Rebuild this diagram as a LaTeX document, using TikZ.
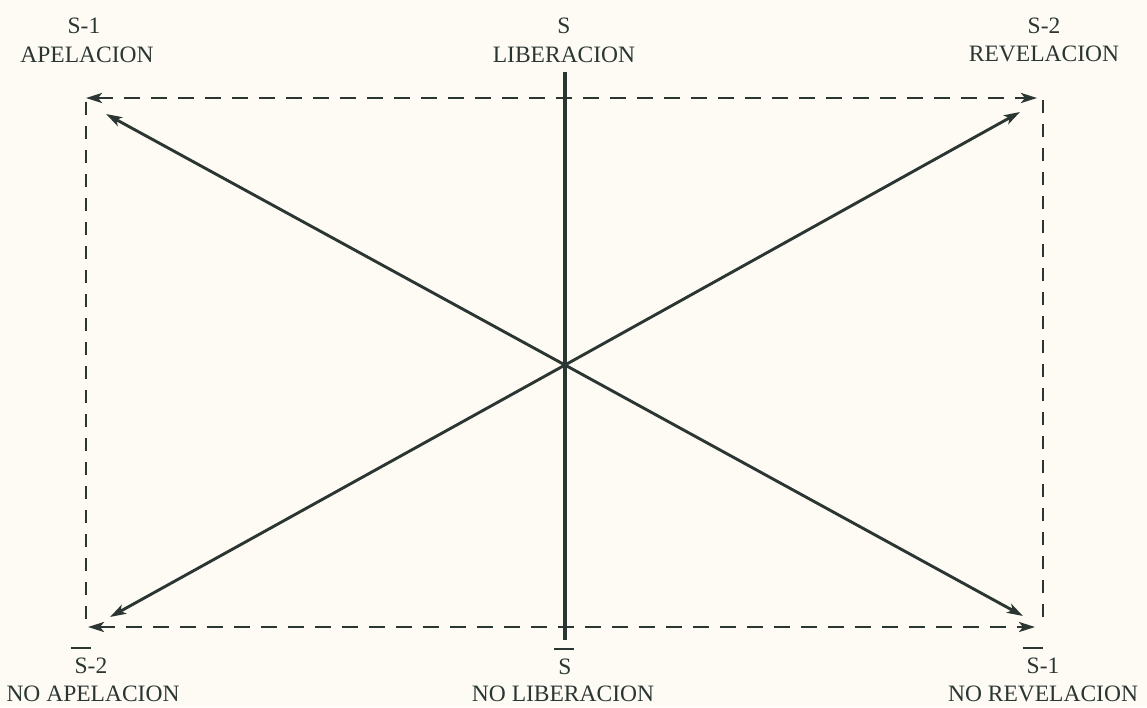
\documentclass[tikz,border=0pt]{standalone}
\usepackage{fontspec}
\setmainfont{Liberation Serif}
\usetikzlibrary{arrows.meta}
\definecolor{ink}{HTML}{2B3633}
\definecolor{paper}{HTML}{FDFBF3}
\newcommand\negS{\makebox[0pt][l]{\hspace{-4pt}\rule[24pt]{20pt}{2pt}}S}
\tikzset{
  lbl/.style={anchor=base, inner sep=0pt, text=ink, font=\fontsize{23.5}{28}\selectfont},
  solidline/.style={draw=ink, line width=2.9pt},
  dashline/.style={draw=ink, line width=2.8pt, dash pattern=on 16pt off 11pt},
  vdashline/.style={draw=ink, line width=2.8pt, dash pattern=on 13pt off 11pt},
  tip/.style={-{Stealth[length=16pt,width=10pt,inset=4pt]}},
  tips/.style={{Stealth[length=16pt,width=10pt,inset=4pt]}-{Stealth[length=16pt,width=10pt,inset=4pt]}}
}
\begin{document}
\begin{tikzpicture}[x=1pt,y=-1pt]
\fill[paper] (0,0) rectangle (1147,707);
\useasboundingbox (0,0) rectangle (1147,707);
% corners of dashed frame
\coordinate (tl) at (86,98);
\coordinate (tr) at (1037,98);
\coordinate (bl) at (88,627);
\coordinate (br) at (1035,627);
\coordinate (lvt) at (86,102);
\coordinate (lvb) at (86,622);
\coordinate (rvt) at (1043,100);
\coordinate (rvb) at (1043,622);
% centre and diagonal tips
\coordinate (c) at (565,365);
\coordinate (dtl) at (106,114);
\coordinate (dtr) at (1020,112);
\coordinate (dbl) at (110,617);
\coordinate (dbr) at (1023,616);
\coordinate (vt) at (565,72);
\coordinate (vb) at (565,640);
% dashed frame
\draw[dashline,tips] (tl) -- (tr);
\draw[dashline,tips] (bl) -- (br);
\draw[vdashline] (lvt) -- (lvb);
\draw[vdashline] (rvt) -- (rvb);
% vertical axis
\draw[solidline, line width=3.2pt] (vt) -- (vb);
% diagonals
\draw[solidline,tip] (c) -- (dtl);
\draw[solidline,tip] (c) -- (dtr);
\draw[solidline,tip] (c) -- (dbl);
\draw[solidline,tip] (c) -- (dbr);
% labels
\node[lbl] (s1) at (84,33) {S-1};
\node[lbl] (s1t) at (87,62) {APELACION};
\node[lbl] (s) at (564,33) {S};
\node[lbl] (st) at (564,62) {LIBERACION};
\node[lbl] (s2) at (1044,33) {S-2};
\node[lbl] (s2t) at (1044,61) {REVELACION};
\node[lbl] (ns2) at (91,673) {\negS-2};
\node[lbl] (ns2t) at (93,701) {NO APELACION};
\node[lbl] (ns) at (565,674) {\negS};
\node[lbl] (nst) at (563,701) {NO LIBERACION};
\node[lbl] (ns1) at (1043,673) {\negS-1};
\node[lbl] (ns1t) at (1043,701) {NO REVELACION};
\end{tikzpicture}
\end{document}
